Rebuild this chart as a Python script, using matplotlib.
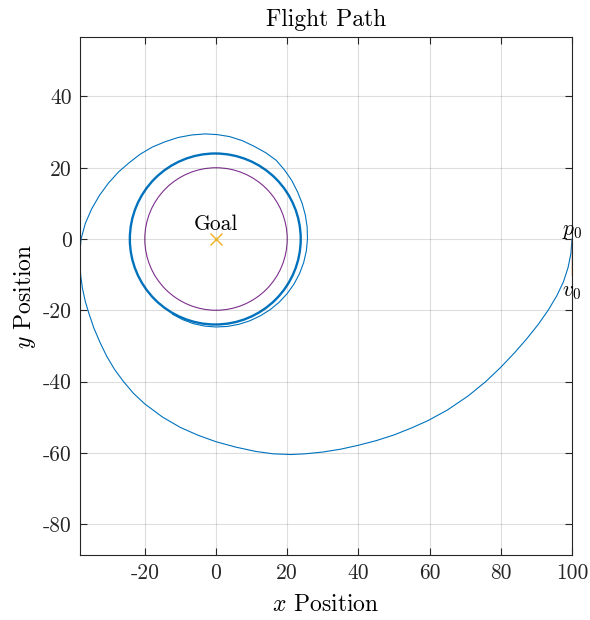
import numpy as np
import matplotlib
matplotlib.use("Agg")
import matplotlib.pyplot as plt
from matplotlib.patches import Circle

plt.rcParams['font.family'] = 'cmr10'
plt.rcParams['mathtext.fontset'] = 'cm'
plt.rcParams['axes.unicode_minus'] = False
plt.rcParams['axes.formatter.use_mathtext'] = False

# start of the flight: position p0 and velocity v0
p0 = (100, 0)
v0 = (0, -10)
goal = (0, 0)
goal_radius = 20

# settled orbit around the goal
orbit_center = (-0.2, 0)
orbit_radius = 24.0

# approach spiral, from p0 until it joins the orbit
path_x = [100.0, 99.7, 98.9, 97.6, 95.7, 93.3, 90.5, 87.3, 83.8, 80.0, 75.8, 70.9,
          65.0, 59.5, 55.0, 50.0, 45.0, 40.0, 35.0, 30.0, 25.0, 21.0, 16.0, 11.0,
          5.5, 0.0, -5.0, -10.0, -15.0, -20.0, -23.2, -26.0, -28.5, -30.7, -32.6,
          -34.3, -35.6, -36.7, -37.5, -38.0, -38.2, -38.2, -37.9, -36.7, -34.9,
          -32.7, -30.2, -27.4, -24.4, -21.3, -17.9, -14.3, -10.6, -6.85, -3.0,
          0.4, 3.8, 7.4, 10.75, 14.0, 16.9, 19.3, 21.3, 22.9, 24.2, 25.1, 25.6, 25.7,
          25.38, 24.63, 23.47, 21.91, 19.99, 17.75, 15.22, 12.45, 9.51, 6.42, 3.23,
          0.0, -3.22, -6.37, -9.38, -12.2]
path_y = [0.0, -4.0, -8.0, -12.0, -16.0, -20.0, -24.0, -28.0, -32.0, -36.0, -40.0, -44.0,
          -48.0, -51.0, -53.0, -55.0, -56.6, -57.9, -59.0, -59.8, -60.3, -60.5, -60.3, -59.6,
          -58.4, -56.9, -55.1, -52.9, -50.0, -46.3, -43.3, -40.0, -36.6, -32.9, -29.0,
          -25.0, -21.2, -17.6, -13.9, -10.3, -7.0, -3.5, 0.0, 4.4, 8.5,
          12.3, 15.7, 18.8, 21.4, 23.8, 25.8, 27.3, 28.5, 29.2, 29.5,
          29.3, 28.75, 27.6, 26.0, 24.2, 22.1, 19.3, 16.4, 13.25, 10.0, 6.7, 3.4, 0.0,
          -3.34, -6.6, -9.72, -12.65, -15.34, -17.75, -19.84, -21.56, -22.96, -23.95, -24.54,
          -24.7, -24.44, -23.76, -22.63, -21.13]

blue = (0, 0.447, 0.741)
orange = (0.85, 0.325, 0.098)
yellow = (0.929, 0.694, 0.125)
purple = (0.494, 0.184, 0.556)
axcol = (0.15, 0.15, 0.15)

fig = plt.figure(figsize=(5.9, 6.2), dpi=100)
ax = fig.add_axes([80/590, 1-555/620, 492/590, 518/620])

ax.plot(path_x, path_y, color=blue, lw=0.8)
ax.add_patch(Circle(orbit_center, orbit_radius, fill=False, ec=blue, lw=1.7))
ax.plot([p0[0], p0[0]+v0[0]], [p0[1], p0[1]+v0[1]], color=orange, lw=1.0)
ax.add_patch(Circle(goal, goal_radius, fill=False, ec=purple, lw=0.8))
ax.plot(goal[0], goal[1], 'x', color=yellow, ms=9, mew=1.0)

ax.text(goal[0], goal[1]+2.5, 'Goal', ha='center', va='baseline', fontsize=15.5)
ax.text(p0[0], p0[1]+1.0, r'$p_0$', ha='center', va='baseline', fontsize=15.5)
ax.text(p0[0]+v0[0], p0[1]+v0[1]-6.0, r'$v_0$', ha='center', va='baseline', fontsize=15.5)

ax.set_xlim(-38.2, 100)
ax.set_ylim(-88.7, 56.7)
ax.set_xticks(np.arange(-20, 101, 20))
ax.set_yticks(np.arange(-80, 41, 20))
ax.grid(True, color=(0.15, 0.15, 0.15), alpha=0.15, lw=0.8)
ax.tick_params(direction='in', top=True, right=True, length=5, width=0.8, pad=6,
               colors=axcol, labelsize=15.5, labelcolor=axcol)
for s in ax.spines.values():
    s.set_color(axcol)
    s.set_linewidth(0.8)

ax.set_title('Flight Path', fontsize=17, pad=8)
ax.set_xlabel(r'$x$ Position', fontsize=17, labelpad=8)
ax.set_ylabel(r'$y$ Position', fontsize=17, labelpad=3)

fig.savefig('out.png', dpi=100)
